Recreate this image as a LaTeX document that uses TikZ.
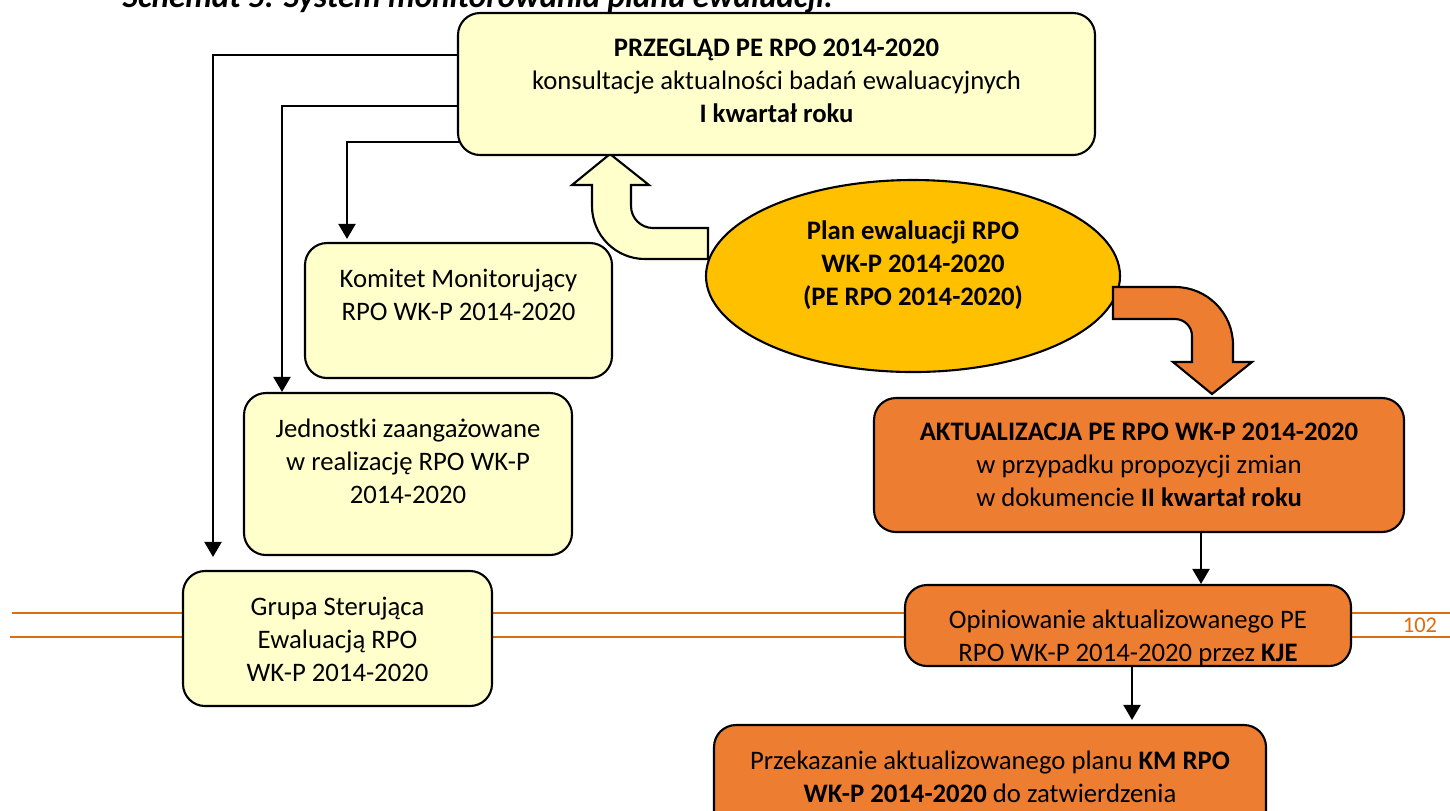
\documentclass[tikz,border=0pt]{standalone}
\usepackage{fontspec}
\setmainfont{Carlito}
\usetikzlibrary{positioning,shapes.geometric,arrows.meta}
\definecolor{pale}{HTML}{FFFFCC}
\definecolor{gold}{HTML}{FFC000}
\definecolor{orng}{HTML}{ED7D31}
\definecolor{pageline}{HTML}{E36C0A}

\begin{document}
\begin{tikzpicture}[x=1cm,y=-1cm,
  font=\fontsize{7.6}{9.4}\selectfont,
  ybox/.style={draw,line width=0.6pt,rounded corners=0.22cm,fill=pale,inner sep=0pt},
  obox/.style={ybox,fill=orng},
  txt/.style={align=center,inner sep=0pt},
  arr/.style={line width=0.6pt,-{Triangle[width=0.17cm,length=0.15cm]}},
  blk/.style={draw,line width=0.6pt,line join=miter}]
\clip (0,0) rectangle (14.5,8.1);

%title, cut by the page edge
\node[txt,font=\fontsize{9.4}{11}\selectfont\bfseries\itshape,anchor=base west] (title) at (1.22,0.07) {Schemat 5. System monitorowania planu ewaluacji.};

%page rule
\draw[pageline,line width=0.6pt] (0.12,6.13) -- (14.5,6.13);
\draw[pageline,line width=0.6pt] (0.10,6.37) -- (14.5,6.37);
\node[pageline,font=\fontsize{6.4}{8}\selectfont,anchor=base] (pnum) at (14.20,6.32) {102};

%bent arrows
\draw[blk,fill=pale] (6.10,1.54) -- (6.49,1.85) -- (6.31,1.85) -- (6.31,2.06)
  arc[start angle=180,end angle=90,radius=0.22] -- (7.08,2.28) -- (7.08,2.59) -- (6.45,2.59)
  arc[start angle=90,end angle=180,radius=0.53] -- (5.92,1.85) -- (5.72,1.85) -- cycle;

%boxes
\node[ybox,minimum width=6.37cm,minimum height=1.42cm] (pr) at (7.765,0.84) {};
\node[txt,below=0.26cm of pr.north] (prt) {\textbf{PRZEGLĄD PE RPO 2014-2020}\\konsultacje aktualności badań ewaluacyjnych\\\textbf{I kwartał roku}};

\node[ybox,minimum width=3.07cm,minimum height=1.35cm] (km) at (4.585,3.105) {};
\node[txt,below=0.26cm of km.north] (kmt) {Komitet Monitorujący\\RPO WK-P 2014-2020};

\node[ybox,minimum width=3.28cm,minimum height=1.62cm] (jz) at (4.08,4.74) {};
\node[txt,below=0.26cm of jz.north] (jzt) {Jednostki zaangażowane\\w realizację RPO WK-P\\2014-2020};

\node[ybox,minimum width=3.09cm,minimum height=1.35cm] (gs) at (3.375,6.385) {};
\node[txt,below=0.26cm of gs.north] (gst) {Grupa Sterująca\\Ewaluacją RPO\\WK-P 2014-2020};

\node[ellipse,draw,line width=0.6pt,fill=gold,inner sep=0pt,minimum width=4.14cm,minimum height=1.92cm] (pe) at (9.13,2.76) {};
\node[txt,font=\fontsize{7.6}{9.4}\selectfont\bfseries] (pet) at ([yshift=0.11cm]pe.center) {Plan ewaluacji RPO\\WK-P 2014-2020\\(PE RPO 2014-2020)};

\draw[blk,fill=orng] (11.13,2.87) -- (11.75,2.87)
  arc[start angle=270,end angle=360,radius=0.58] -- (12.33,3.62) -- (12.52,3.62) -- (12.12,3.94)
  -- (11.73,3.62) -- (11.92,3.62) -- (11.92,3.36)
  arc[start angle=0,end angle=-90,radius=0.17] -- (11.13,3.19) -- cycle;

\node[obox,minimum width=5.30cm,minimum height=1.34cm] (ak) at (11.39,4.65) {};
\node[txt,below=0.25cm of ak.north] (akt) {\textbf{AKTUALIZACJA PE RPO WK-P 2014-2020}\\w przypadku propozycji zmian\\w dokumencie \textbf{II kwartał roku}};

\node[obox,minimum width=4.46cm,minimum height=0.81cm] (op) at (11.28,6.255) {};
\node[txt,below=0.25cm of op.north] (opt) {Opiniowanie aktualizowanego PE\\RPO WK-P 2014-2020 przez \textbf{KJE}};

\node[obox,minimum width=5.52cm,minimum height=1.10cm] (pk) at (9.90,7.80) {};
\node[txt,below=0.26cm of pk.north] (pkt) {Przekazanie aktualizowanego planu \textbf{KM RPO}\\\textbf{WK-P 2014-2020} do zatwierdzenia};

%connectors
\draw[arr,shorten >=0.13cm] ([yshift=0.29cm]pr.west) -| ([xshift=-1.245cm]gs.north);
\draw[arr] ([yshift=-0.22cm]pr.west) -| ([xshift=-1.26cm]jz.north);
\draw[arr,shorten >=0.03cm] ([xshift=0.02cm,yshift=-0.58cm]pr.west) -| ([xshift=-1.115cm]km.north);
\coordinate (ako) at ([xshift=0.62cm]ak.south);
\coordinate (opo) at ([xshift=0.04cm]op.south);
\draw[arr] (ako) -- (ako |- op.north);
\draw[arr,shorten >=0.04cm] (opo) -- (opo |- pk.north);
\end{tikzpicture}
\end{document}
